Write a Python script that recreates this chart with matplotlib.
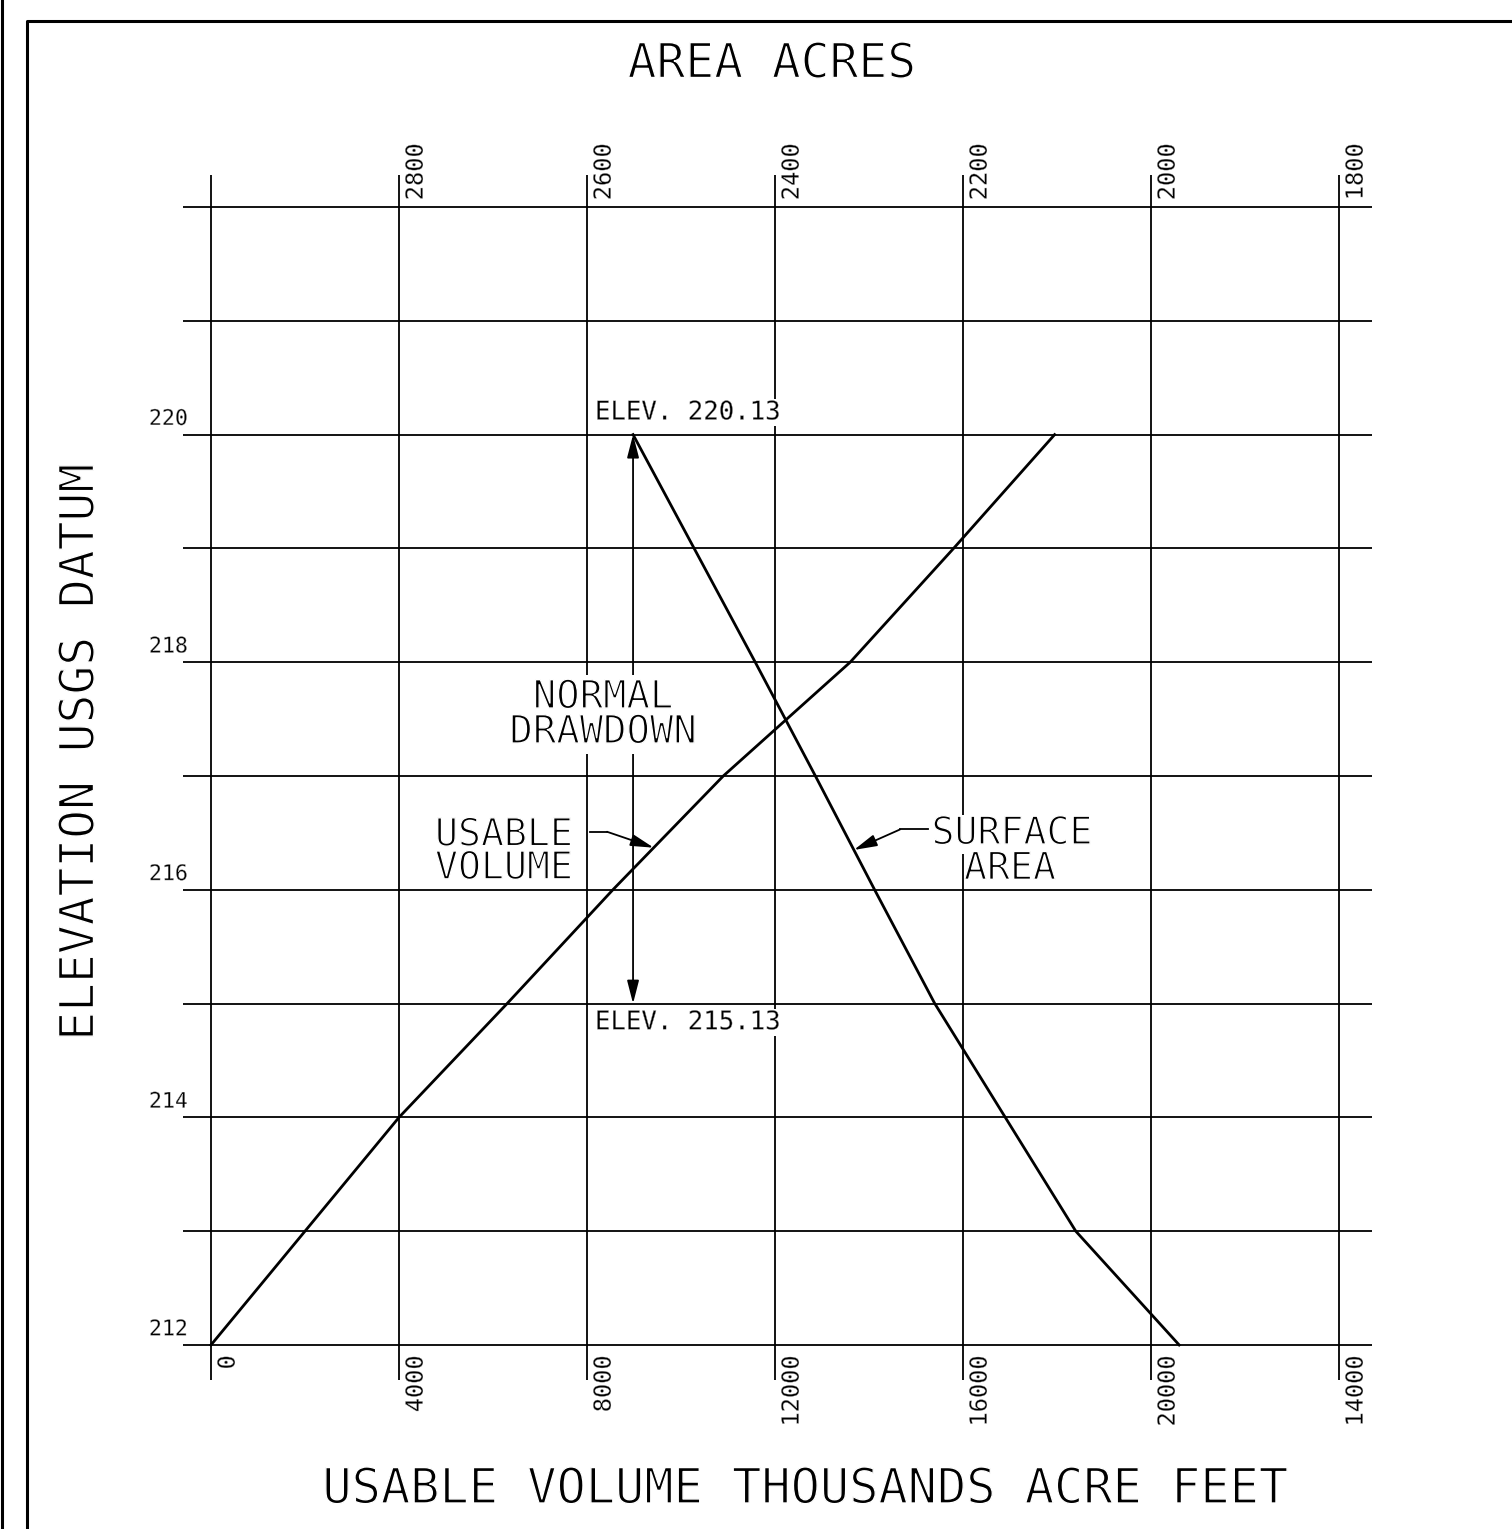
import numpy as np
import matplotlib
matplotlib.use('Agg')
import matplotlib.pyplot as plt
from matplotlib import patheffects as pe

# elevation (ft, USGS datum)
elev = [212, 213, 214, 215, 216, 217, 218, 219, 220]
volume = [0, 2000, 4000, 6300, 8550, 10900, 13600, 15800, 17950]       # thousand acre feet
area = [1970, 2080, 2155, 2230, 2294, 2357, 2421, 2486, 2551]          # acres

grid_elev = list(range(212, 223))
label_elev = [212, 214, 216, 218, 220]
vol_ticks = [0, 4000, 8000, 12000, 16000, 20000, 24000]
vol_labels = ['0', '4000', '8000', '12000', '16000', '20000', '14000']
area_ticks = [2800, 2600, 2400, 2200, 2000, 1800]
area_labels = ['2800', '2600', '2400', '2200', '2000', '1800']


def area_to_x(a):
    # top scale: 3000 acres at volume 0, 200 acres per 4000 units
    return (3000 - np.asarray(a, dtype=float)) * 20


FONT = 'DejaVu Sans Mono'
# erode the glyph outline a little so the lettering looks like a CAD pen font
thin = [pe.Normal(), pe.Stroke(linewidth=1.0, foreground='white')]
thin_small = [pe.Normal(), pe.Stroke(linewidth=0.3, foreground='white')]

fig = plt.figure(figsize=(15.12, 15.29), dpi=100)
ax = fig.add_axes([0, 0, 1, 1])
ax.set_xlim(-4489, 27681)
ax.set_ylim(210.383, 223.819)
ax.axis('off')

# grid
ax.hlines(grid_elev, -596, 24702, color='black', lw=1.3, zorder=1)
ax.vlines(vol_ticks, 211.69, 222.28, color='black', lw=1.3, zorder=1)

# curves
ax.plot(volume, elev, color='black', lw=2.0, zorder=3)
ax.plot(area_to_x(area), elev, color='black', lw=2.0, zorder=3)

# scale labels
for e in label_elev:
    ax.text(-489, e + 0.05, str(e), ha='right', va='bottom', fontsize=15.5,
            family=FONT, path_effects=thin_small)
for v, lab in zip(vol_ticks, vol_labels):
    ax.text(v + 100, 211.91, lab, rotation=90, ha='left', va='top',
            fontsize=17, family=FONT, path_effects=thin_small)
for a, lab in zip(area_ticks, area_labels):
    ax.text(area_to_x(a) + 100, 222.06, lab, rotation=90, ha='left',
            va='bottom', fontsize=17, family=FONT, path_effects=thin_small)

# normal drawdown arrow
x_top = area_to_x(area[-1])
ax.annotate('', xy=(x_top, 215), xytext=(x_top, 220),
            arrowprops=dict(arrowstyle='<|-|>,head_length=0.7,head_width=0.18',
                            color='black', lw=1.3, mutation_scale=20,
                            shrinkA=0, shrinkB=0), zorder=2)

box = dict(facecolor='white', edgecolor='none', pad=2)
ax.text(8340, 217.54, 'NORMAL\nDRAWDOWN', ha='center', va='center',
        fontsize=28, family=FONT, linespacing=0.9, bbox=box, zorder=4,
        path_effects=thin)
ax.text(8170, 220.08, 'ELEV. 220.13', ha='left', va='bottom', fontsize=18.5,
        family=FONT, bbox=dict(facecolor='white', edgecolor='none', pad=0.5),
        zorder=4, path_effects=thin_small)
ax.text(8170, 214.95, 'ELEV. 215.13', ha='left', va='top', fontsize=18.5,
        family=FONT, bbox=dict(facecolor='white', edgecolor='none', pad=0.5),
        zorder=4, path_effects=thin_small)

# usable volume leader
ax.text(6234, 216.33, 'USABLE\nVOLUME', ha='center', va='center', fontsize=27.5,
        family=FONT, linespacing=0.9, zorder=4, path_effects=thin)
tip_e = 216.37
tip_v = np.interp(tip_e, elev, volume)
ax.plot([8064, 8426], [216.51, 216.51], color='black', lw=1.3, zorder=3)
ax.annotate('', xy=(tip_v, tip_e), xytext=(8426, 216.51),
            arrowprops=dict(arrowstyle='-|>,head_length=0.7,head_width=0.18',
                            color='black', lw=1.3, mutation_scale=20,
                            shrinkA=0, shrinkB=0), zorder=3)

# surface area leader
ax.text(17043, 216.49, 'SURFACE', ha='center', va='center', fontsize=27.5,
        family=FONT, bbox=dict(facecolor='white', edgecolor='none', pad=1),
        zorder=4, path_effects=thin)
ax.text(17000, 216.18, 'AREA', ha='center', va='center', fontsize=27.5,
        family=FONT, zorder=4, path_effects=thin)
tip_e = 216.35
tip_a = np.interp(tip_e, elev, area)
ax.plot([15255, 14660], [216.53, 216.53], color='black', lw=1.3, zorder=3)
ax.annotate('', xy=(area_to_x(tip_a), tip_e), xytext=(14660, 216.53),
            arrowprops=dict(arrowstyle='-|>,head_length=0.7,head_width=0.18',
                            color='black', lw=1.3, mutation_scale=20,
                            shrinkA=0, shrinkB=0), zorder=3)

# titles
fig.text(772 / 1512, 1 - 64 / 1529, 'AREA ACRES', ha='center', va='center',
         fontsize=34.5, family=FONT, path_effects=thin)
fig.text(80 / 1512, 1 - 752 / 1529, 'ELEVATION USGS DATUM', ha='center',
         va='center', rotation=90, fontsize=34.5, family=FONT, path_effects=thin)
fig.text(805 / 1512, 1 - 1489 / 1529, 'USABLE VOLUME THOUSANDS ACRE FEET',
         ha='center', va='center', fontsize=35, family=FONT, path_effects=thin)

# drawing frame
fig.add_artist(plt.Line2D([1.5 / 1512, 1.5 / 1512], [0, 1], color='black', lw=2.2,
                          transform=fig.transFigure))
fig.add_artist(plt.Line2D([27 / 1512, 27 / 1512, 1], [0, 1 - 20.5 / 1529, 1 - 20.5 / 1529],
                          color='black', lw=2.2, transform=fig.transFigure))

fig.savefig('out.png', dpi=100, facecolor='white')
